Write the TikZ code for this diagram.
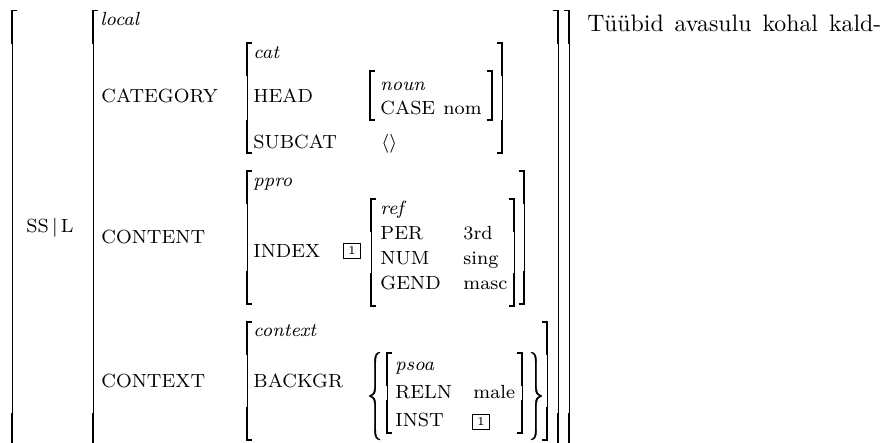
\documentclass[tikz,border=0pt]{standalone}
\usepackage{amsmath,amssymb}
\usepackage{tikz}

% square brackets: x, top, bottom (thick end pieces, thin stem)
\newcommand{\bracketL}[3]{%
  \pgfmathsetmacro{\brklen}{min(33,(#3-#2)/2)}%
  \draw[brakend] (#1+5,#2) -- (#1,#2) -- (#1,#2+\brklen);
  \draw[brakmid] (#1,#2+\brklen) -- (#1,#3-\brklen);
  \draw[brakend] (#1,#3-\brklen) -- (#1,#3) -- (#1+5,#3);
}
\newcommand{\bracketR}[3]{%
  \pgfmathsetmacro{\brklen}{min(33,(#3-#2)/2)}%
  \draw[brakend] (#1-5,#2) -- (#1,#2) -- (#1,#2+\brklen);
  \draw[brakmid] (#1,#2+\brklen) -- (#1,#3-\brklen);
  \draw[brakend] (#1,#3-\brklen) -- (#1,#3) -- (#1-5,#3);
}
% curly braces, filled: x of the tip, top, bottom, direction (1 = opening, -1 = closing)
\newcommand{\curlyset}[4]{%
  \pgfmathsetmacro{\brcmid}{(#2+#3)/2}%
  \begin{scope}[shift={(#1,0)}, xscale=#4]
  \fill[brace] (11,#2) .. controls (6.5,#2+0.5) and (5.3,#2+4) .. (5.3,#2+10)
    -- (5.3,\brcmid-8) .. controls (5.3,\brcmid-3) and (3,\brcmid-0.6) .. (0,\brcmid)
    .. controls (3,\brcmid+0.6) and (5.3,\brcmid+3) .. (5.3,\brcmid+8)
    -- (5.3,#3-10) .. controls (5.3,#3-4) and (6.5,#3-0.5) .. (11,#3)
    -- (11,#3-0.7) .. controls (8,#3-1.3) and (6.8,#3-4) .. (6.8,#3-10)
    -- (6.8,\brcmid+8) .. controls (6.8,\brcmid+3) and (5,\brcmid+0.6) .. (1.6,\brcmid)
    .. controls (5,\brcmid-0.6) and (6.8,\brcmid-3) .. (6.8,\brcmid-8)
    -- (6.8,#2+10) .. controls (6.8,#2+4) and (8,#2+1.3) .. (11,#2+0.7) -- cycle;
  \end{scope}
}

\begin{document}
\begin{tikzpicture}[
    x=0.42pt, y=-0.42pt,
    feat/.style={anchor=base west, inner sep=0pt, font=\footnotesize},
    typ/.style={anchor=base west, inner sep=0pt, font=\footnotesize\itshape},
    tag/.style={draw, line width=0.55pt, inner sep=0.8pt, minimum width=7.4pt, minimum height=6.2pt, font=\tiny},
    gloss/.style={anchor=base west, inner sep=0pt, font={\normalsize\spaceskip=4.6pt\relax}},
    brakend/.style={line width=0.65pt, line join=miter},
    brakmid/.style={line width=0.4pt},
    brace/.style={draw, line width=0.15pt}
]
\useasboundingbox (0,0) rectangle (895,442);
\clip (0,0) rectangle (895,442);

% SS|L level
\bracketL{12}{10.5}{446}
\bracketR{569}{10.5}{446}
\node[feat] (ssl) at (26,232) {SS\,$|$\,L};

% local
\bracketL{93}{10.5}{446}
\bracketR{558}{10.5}{446}
\node[typ] (local) at (100,25) {local};

% running text
\node[gloss] (gloss) at (587,31) {Tüübid avasulu kohal kald-};

% CATEGORY
\node[feat] (category) at (101,102) {CATEGORY};
\bracketL{247}{43}{153}
\bracketR{502}{43}{153}
\node[typ] (cat) at (253,58) {cat};
\node[feat] (head) at (253,102) {HEAD};
\bracketL{370}{71}{120}
\bracketR{492}{71}{120}
\node[typ] (noun) at (380,90) {noun};
\node[feat] (case) at (380,114) {CASE};
\node[feat] (nom) at (443,114) {nom};
\node[feat] (subcat) at (253,148) {SUBCAT};
\node[feat] (subcatval) at (381,148) {$\langle\rangle$};

% CONTENT
\node[feat] (content) at (101,243) {CONTENT};
\bracketL{247}{171}{304}
\bracketR{524}{171}{304}
\node[typ] (ppro) at (253,186) {ppro};
\node[feat] (index) at (253,257) {INDEX};
\node[tag] (tagA) at (352,251) {1};
\bracketL{371}{199}{306}
\bracketR{514}{199}{306}
\node[typ] (ref) at (380,214) {ref};
\node[feat] (per) at (380,239) {PER};
\node[feat] (perval) at (463,239) {3rd};
\node[feat] (num) at (380,264) {NUM};
\node[feat] (numval) at (463,264) {sing};
\node[feat] (gend) at (380,289) {GEND};
\node[feat] (gendval) at (463,289) {masc};

% CONTEXT
\node[feat] (context) at (101,387) {CONTEXT};
\bracketL{247}{322}{440}
\bracketR{547}{322}{440}
\node[typ] (ctxtype) at (253,336) {context};
\node[feat] (backgr) at (253,387) {BACKGR};
\curlyset{369}{352}{440}{1}
\curlyset{542}{352}{440}{-1}
\bracketL{387}{353}{433}
\bracketR{522}{353}{433}
\node[typ] (psoa) at (395,370) {psoa};
\node[feat] (reln) at (395,398) {RELN};
\node[feat] (relnval) at (473,398) {male};
\node[feat] (inst) at (395,426) {INST};
\node[tag] (tagB) at (481,422) {1};

\end{tikzpicture}
\end{document}
